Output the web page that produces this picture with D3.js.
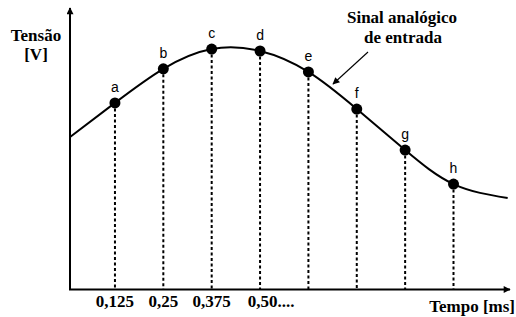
<!DOCTYPE html>
<html><head><meta charset="utf-8">
<script src="https://cdn.jsdelivr.net/npm/d3@7"></script>
<style>html,body{margin:0;padding:0;background:#fff;}svg{display:block;}</style>
</head><body>
<script>
// Sampled points
const sampleLabels = ['a','b','c','d','e','f','g','h'];
const sampleTimes = [0.125, 0.25, 0.375, 0.5, 0.625, 0.75, 0.875, 1.0];
const sampleValues = [6.67, 7.89, 8.60, 8.53, 7.78, 6.45, 4.98, 3.76];
// Analog input signal (continuous curve through the samples)
const signalTimes = [0.009, 0.125, 0.25, 0.375, 0.5, 0.625, 0.75, 0.875, 1.0, 1.14];
const signalValues = [5.45, 6.67, 7.89, 8.60, 8.53, 7.78, 6.45, 4.98, 3.76, 3.26];
// Tick labels
const tickTimes = [0.125, 0.25, 0.375, 0.5];
const tickLabels = ['0,125', '0,25', '0,375', '0,50....'];

const W = 516, H = 317;
const svg = d3.select('body').append('svg').attr('width', W).attr('height', H);
const x = d3.scaleLinear().domain([0, 1]).range([66.6, 453.5]);
const y = d3.scaleLinear().domain([0, 10]).range([289, 10]);
const x0 = 70, y0 = 289.5;

svg.append('defs').append('marker')
  .attr('id','ah').attr('viewBox','0 0 10 10').attr('refX',9).attr('refY',5)
  .attr('markerWidth',9).attr('markerHeight',7).attr('markerUnits','userSpaceOnUse').attr('orient','auto')
  .append('path').attr('d','M0,0 L10,5 L0,10 Z').attr('fill','#000');

// dashed drop lines
svg.selectAll('line.drop').data(sampleTimes).join('line')
  .attr('x1', d => x(d)).attr('x2', d => x(d))
  .attr('y1', (d,i) => y(sampleValues[i])).attr('y2', y0)
  .attr('stroke','#000').attr('stroke-width',2).attr('stroke-dasharray','3,2.5');

// axes
svg.append('line').attr('x1',x0).attr('y1',y0).attr('x2',x0).attr('y2',8)
  .attr('stroke','#000').attr('stroke-width',2).attr('marker-end','url(#ah)');
svg.append('line').attr('x1',x0-1).attr('y1',y0).attr('x2',510).attr('y2',y0)
  .attr('stroke','#000').attr('stroke-width',2).attr('marker-end','url(#ah)');

// signal curve
const line = d3.line().x((d,i) => x(signalTimes[i])).y(d => y(d)).curve(d3.curveNatural);
svg.append('path').datum(signalValues).attr('d', line)
  .attr('fill','none').attr('stroke','#000').attr('stroke-width',2);

// sample points
svg.selectAll('circle.s').data(sampleTimes).join('circle')
  .attr('cx', d => x(d)).attr('cy', (d,i) => y(sampleValues[i])).attr('r',5.5).attr('fill','#000');
svg.selectAll('text.lbl').data(sampleLabels).join('text')
  .attr('x', (d,i) => x(sampleTimes[i])).attr('y', (d,i) => y(sampleValues[i]) - 11)
  .attr('text-anchor','middle').attr('font-family','Liberation Sans, Arial, sans-serif')
  .attr('font-size',14).text(d => d);

// tick labels
svg.selectAll('text.tick').data(tickTimes).join('text')
  .attr('x', (d,i) => x(d) + (i === tickLabels.length-1 ? 11 : 0)).attr('y', 307)
  .attr('text-anchor','middle').attr('font-family','Liberation Serif, Times New Roman, serif')
  .attr('font-weight','bold').attr('font-size',17).text((d,i) => tickLabels[i]);

const serif = t => t.attr('font-family','Liberation Serif, Times New Roman, serif').attr('font-weight','bold').attr('font-size',17);
svg.append('text').attr('x',515).attr('y',312).attr('text-anchor','end').call(serif).text('Tempo [ms]');
svg.append('text').attr('x',36).attr('y',41).attr('text-anchor','middle').call(serif).text('Tensão');
svg.append('text').attr('x',36).attr('y',60).attr('text-anchor','middle').call(serif).text('[V]');
svg.append('text').attr('x',402).attr('y',23).attr('text-anchor','middle').call(serif).text('Sinal analógico');
svg.append('text').attr('x',403).attr('y',43).attr('text-anchor','middle').call(serif).text('de entrada');

// annotation arrow
svg.append('line').attr('x1',368).attr('y1',52).attr('x2',333).attr('y2',84)
  .attr('stroke','#000').attr('stroke-width',1.1).attr('marker-end','url(#ah)');
</script>
</body></html>
